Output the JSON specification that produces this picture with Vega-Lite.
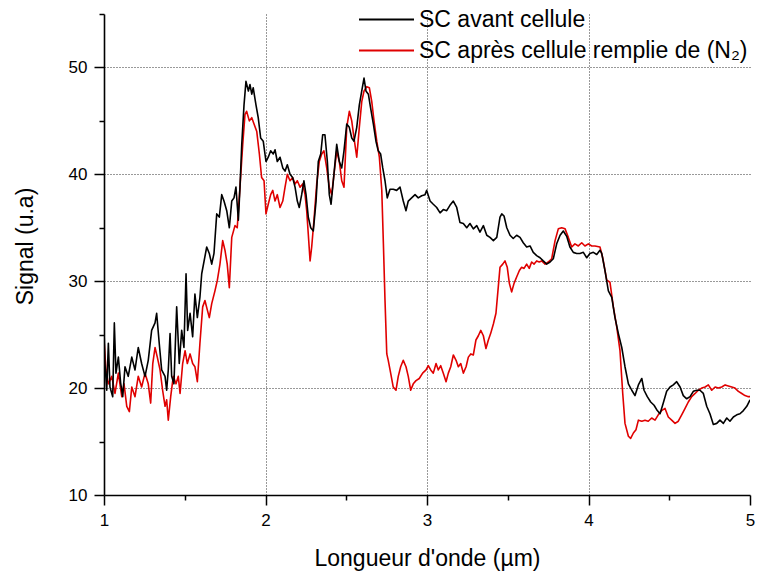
{
  "$schema": "https://vega.github.io/schema/vega-lite/v6.json",
  "autosize": {"type": "none"},
  "padding": {"left": 104, "top": 14, "right": 10, "bottom": 76},
  "width": 646,
  "height": 481,
  "background": "white",
  "config": {
    "view": {"stroke": null},
    "font": "Liberation Sans",
    "axis": {"labelFont": "Liberation Sans", "titleFont": "Liberation Sans"},
    "legend": {"labelFont": "Liberation Sans"}
  },
  "data": {"values": [
    {"s":"SC après cellule remplie de (N₂)","x":1.000,"y":24.5},
    {"s":"SC après cellule remplie de (N₂)","x":1.012,"y":21.7},
    {"s":"SC après cellule remplie de (N₂)","x":1.027,"y":20.4},
    {"s":"SC après cellule remplie de (N₂)","x":1.048,"y":21.1},
    {"s":"SC après cellule remplie de (N₂)","x":1.068,"y":19.5},
    {"s":"SC après cellule remplie de (N₂)","x":1.089,"y":21.4},
    {"s":"SC après cellule remplie de (N₂)","x":1.110,"y":19.2},
    {"s":"SC après cellule remplie de (N₂)","x":1.124,"y":20.4},
    {"s":"SC après cellule remplie de (N₂)","x":1.141,"y":18.3},
    {"s":"SC après cellule remplie de (N₂)","x":1.157,"y":17.8},
    {"s":"SC après cellule remplie de (N₂)","x":1.172,"y":20.1},
    {"s":"SC après cellule remplie de (N₂)","x":1.192,"y":19.2},
    {"s":"SC après cellule remplie de (N₂)","x":1.212,"y":21.1},
    {"s":"SC après cellule remplie de (N₂)","x":1.233,"y":20.1},
    {"s":"SC après cellule remplie de (N₂)","x":1.254,"y":21.4},
    {"s":"SC après cellule remplie de (N₂)","x":1.274,"y":20.4},
    {"s":"SC après cellule remplie de (N₂)","x":1.289,"y":18.6},
    {"s":"SC après cellule remplie de (N₂)","x":1.302,"y":22.3},
    {"s":"SC après cellule remplie de (N₂)","x":1.316,"y":23.8},
    {"s":"SC après cellule remplie de (N₂)","x":1.330,"y":22.9},
    {"s":"SC après cellule remplie de (N₂)","x":1.347,"y":21.7},
    {"s":"SC après cellule remplie de (N₂)","x":1.363,"y":19.8},
    {"s":"SC après cellule remplie de (N₂)","x":1.378,"y":18.3},
    {"s":"SC après cellule remplie de (N₂)","x":1.388,"y":18.9},
    {"s":"SC après cellule remplie de (N₂)","x":1.398,"y":17.0},
    {"s":"SC après cellule remplie de (N₂)","x":1.413,"y":19.2},
    {"s":"SC après cellule remplie de (N₂)","x":1.429,"y":21.1},
    {"s":"SC après cellule remplie de (N₂)","x":1.446,"y":20.4},
    {"s":"SC après cellule remplie de (N₂)","x":1.460,"y":21.1},
    {"s":"SC après cellule remplie de (N₂)","x":1.471,"y":19.5},
    {"s":"SC après cellule remplie de (N₂)","x":1.487,"y":22.3},
    {"s":"SC après cellule remplie de (N₂)","x":1.502,"y":23.5},
    {"s":"SC après cellule remplie de (N₂)","x":1.516,"y":22.3},
    {"s":"SC après cellule remplie de (N₂)","x":1.533,"y":23.2},
    {"s":"SC après cellule remplie de (N₂)","x":1.549,"y":22.3},
    {"s":"SC après cellule remplie de (N₂)","x":1.563,"y":22.0},
    {"s":"SC après cellule remplie de (N₂)","x":1.578,"y":20.6},
    {"s":"SC après cellule remplie de (N₂)","x":1.594,"y":24.2},
    {"s":"SC après cellule remplie de (N₂)","x":1.611,"y":27.6},
    {"s":"SC après cellule remplie de (N₂)","x":1.625,"y":28.2},
    {"s":"SC après cellule remplie de (N₂)","x":1.640,"y":27.3},
    {"s":"SC après cellule remplie de (N₂)","x":1.652,"y":26.6},
    {"s":"SC après cellule remplie de (N₂)","x":1.667,"y":27.9},
    {"s":"SC après cellule remplie de (N₂)","x":1.687,"y":29.1},
    {"s":"SC après cellule remplie de (N₂)","x":1.702,"y":30.1},
    {"s":"SC après cellule remplie de (N₂)","x":1.718,"y":31.6},
    {"s":"SC après cellule remplie de (N₂)","x":1.735,"y":33.8},
    {"s":"SC après cellule remplie de (N₂)","x":1.749,"y":32.9},
    {"s":"SC après cellule remplie de (N₂)","x":1.763,"y":31.6},
    {"s":"SC après cellule remplie de (N₂)","x":1.776,"y":29.4},
    {"s":"SC après cellule remplie de (N₂)","x":1.791,"y":34.1},
    {"s":"SC après cellule remplie de (N₂)","x":1.811,"y":35.2},
    {"s":"SC après cellule remplie de (N₂)","x":1.825,"y":35.0},
    {"s":"SC après cellule remplie de (N₂)","x":1.842,"y":38.8},
    {"s":"SC après cellule remplie de (N₂)","x":1.859,"y":42.8},
    {"s":"SC après cellule remplie de (N₂)","x":1.873,"y":45.6},
    {"s":"SC après cellule remplie de (N₂)","x":1.883,"y":45.9},
    {"s":"SC après cellule remplie de (N₂)","x":1.900,"y":45.0},
    {"s":"SC après cellule remplie de (N₂)","x":1.915,"y":45.3},
    {"s":"SC après cellule remplie de (N₂)","x":1.929,"y":44.7},
    {"s":"SC après cellule remplie de (N₂)","x":1.946,"y":44.0},
    {"s":"SC après cellule remplie de (N₂)","x":1.962,"y":41.9},
    {"s":"SC après cellule remplie de (N₂)","x":1.976,"y":39.7},
    {"s":"SC après cellule remplie de (N₂)","x":1.991,"y":39.4},
    {"s":"SC après cellule remplie de (N₂)","x":2.003,"y":36.3},
    {"s":"SC après cellule remplie de (N₂)","x":2.017,"y":37.2},
    {"s":"SC après cellule remplie de (N₂)","x":2.032,"y":38.1},
    {"s":"SC après cellule remplie de (N₂)","x":2.045,"y":38.5},
    {"s":"SC après cellule remplie de (N₂)","x":2.059,"y":37.5},
    {"s":"SC après cellule remplie de (N₂)","x":2.073,"y":38.1},
    {"s":"SC après cellule remplie de (N₂)","x":2.090,"y":36.9},
    {"s":"SC après cellule remplie de (N₂)","x":2.107,"y":37.5},
    {"s":"SC après cellule remplie de (N₂)","x":2.121,"y":38.8},
    {"s":"SC après cellule remplie de (N₂)","x":2.135,"y":40.0},
    {"s":"SC après cellule remplie de (N₂)","x":2.152,"y":39.4},
    {"s":"SC après cellule remplie de (N₂)","x":2.168,"y":39.7},
    {"s":"SC après cellule remplie de (N₂)","x":2.183,"y":39.1},
    {"s":"SC après cellule remplie de (N₂)","x":2.197,"y":39.4},
    {"s":"SC après cellule remplie de (N₂)","x":2.214,"y":38.8},
    {"s":"SC après cellule remplie de (N₂)","x":2.230,"y":39.1},
    {"s":"SC après cellule remplie de (N₂)","x":2.245,"y":38.1},
    {"s":"SC après cellule remplie de (N₂)","x":2.255,"y":36.6},
    {"s":"SC après cellule remplie de (N₂)","x":2.265,"y":34.4},
    {"s":"SC après cellule remplie de (N₂)","x":2.276,"y":31.9},
    {"s":"SC après cellule remplie de (N₂)","x":2.286,"y":33.2},
    {"s":"SC après cellule remplie de (N₂)","x":2.300,"y":35.7},
    {"s":"SC après cellule remplie de (N₂)","x":2.317,"y":39.1},
    {"s":"SC après cellule remplie de (N₂)","x":2.333,"y":41.2},
    {"s":"SC après cellule remplie de (N₂)","x":2.348,"y":41.9},
    {"s":"SC après cellule remplie de (N₂)","x":2.362,"y":42.2},
    {"s":"SC après cellule remplie de (N₂)","x":2.379,"y":40.6},
    {"s":"SC après cellule remplie de (N₂)","x":2.395,"y":38.8},
    {"s":"SC après cellule remplie de (N₂)","x":2.410,"y":38.1},
    {"s":"SC après cellule remplie de (N₂)","x":2.424,"y":40.0},
    {"s":"SC après cellule remplie de (N₂)","x":2.441,"y":42.2},
    {"s":"SC après cellule remplie de (N₂)","x":2.457,"y":41.2},
    {"s":"SC après cellule remplie de (N₂)","x":2.472,"y":39.4},
    {"s":"SC après cellule remplie de (N₂)","x":2.486,"y":38.8},
    {"s":"SC après cellule remplie de (N₂)","x":2.503,"y":44.4},
    {"s":"SC après cellule remplie de (N₂)","x":2.519,"y":45.9},
    {"s":"SC après cellule remplie de (N₂)","x":2.534,"y":45.0},
    {"s":"SC après cellule remplie de (N₂)","x":2.548,"y":43.4},
    {"s":"SC après cellule remplie de (N₂)","x":2.565,"y":41.6},
    {"s":"SC après cellule remplie de (N₂)","x":2.581,"y":44.4},
    {"s":"SC après cellule remplie de (N₂)","x":2.596,"y":46.8},
    {"s":"SC après cellule remplie de (N₂)","x":2.610,"y":47.8},
    {"s":"SC après cellule remplie de (N₂)","x":2.627,"y":48.2},
    {"s":"SC après cellule remplie de (N₂)","x":2.643,"y":48.1},
    {"s":"SC après cellule remplie de (N₂)","x":2.658,"y":46.8},
    {"s":"SC après cellule remplie de (N₂)","x":2.672,"y":45.0},
    {"s":"SC après cellule remplie de (N₂)","x":2.689,"y":43.1},
    {"s":"SC après cellule remplie de (N₂)","x":2.705,"y":41.6},
    {"s":"SC après cellule remplie de (N₂)","x":2.720,"y":38.5},
    {"s":"SC après cellule remplie de (N₂)","x":2.730,"y":33.5},
    {"s":"SC après cellule remplie de (N₂)","x":2.740,"y":28.2},
    {"s":"SC après cellule remplie de (N₂)","x":2.751,"y":23.2},
    {"s":"SC après cellule remplie de (N₂)","x":2.760,"y":22.6},
    {"s":"SC après cellule remplie de (N₂)","x":2.775,"y":21.4},
    {"s":"SC après cellule remplie de (N₂)","x":2.791,"y":20.1},
    {"s":"SC après cellule remplie de (N₂)","x":2.808,"y":19.8},
    {"s":"SC après cellule remplie de (N₂)","x":2.822,"y":21.1},
    {"s":"SC après cellule remplie de (N₂)","x":2.837,"y":22.0},
    {"s":"SC après cellule remplie de (N₂)","x":2.853,"y":22.6},
    {"s":"SC après cellule remplie de (N₂)","x":2.870,"y":22.0},
    {"s":"SC après cellule remplie de (N₂)","x":2.884,"y":21.1},
    {"s":"SC après cellule remplie de (N₂)","x":2.899,"y":19.8},
    {"s":"SC après cellule remplie de (N₂)","x":2.915,"y":20.4},
    {"s":"SC après cellule remplie de (N₂)","x":2.932,"y":20.7},
    {"s":"SC après cellule remplie de (N₂)","x":2.952,"y":20.9},
    {"s":"SC après cellule remplie de (N₂)","x":2.973,"y":21.4},
    {"s":"SC après cellule remplie de (N₂)","x":2.994,"y":21.7},
    {"s":"SC après cellule remplie de (N₂)","x":3.008,"y":22.1},
    {"s":"SC après cellule remplie de (N₂)","x":3.023,"y":21.7},
    {"s":"SC après cellule remplie de (N₂)","x":3.039,"y":21.4},
    {"s":"SC après cellule remplie de (N₂)","x":3.056,"y":22.3},
    {"s":"SC après cellule remplie de (N₂)","x":3.070,"y":21.7},
    {"s":"SC après cellule remplie de (N₂)","x":3.085,"y":22.1},
    {"s":"SC après cellule remplie de (N₂)","x":3.101,"y":21.4},
    {"s":"SC après cellule remplie de (N₂)","x":3.118,"y":20.6},
    {"s":"SC après cellule remplie de (N₂)","x":3.132,"y":21.4},
    {"s":"SC après cellule remplie de (N₂)","x":3.147,"y":22.0},
    {"s":"SC après cellule remplie de (N₂)","x":3.163,"y":23.1},
    {"s":"SC après cellule remplie de (N₂)","x":3.180,"y":22.6},
    {"s":"SC après cellule remplie de (N₂)","x":3.194,"y":22.0},
    {"s":"SC après cellule remplie de (N₂)","x":3.209,"y":22.3},
    {"s":"SC après cellule remplie de (N₂)","x":3.225,"y":21.4},
    {"s":"SC après cellule remplie de (N₂)","x":3.242,"y":22.0},
    {"s":"SC après cellule remplie de (N₂)","x":3.256,"y":22.9},
    {"s":"SC après cellule remplie de (N₂)","x":3.271,"y":23.2},
    {"s":"SC après cellule remplie de (N₂)","x":3.287,"y":23.1},
    {"s":"SC après cellule remplie de (N₂)","x":3.303,"y":24.5},
    {"s":"SC après cellule remplie de (N₂)","x":3.318,"y":24.9},
    {"s":"SC après cellule remplie de (N₂)","x":3.333,"y":25.4},
    {"s":"SC après cellule remplie de (N₂)","x":3.349,"y":24.9},
    {"s":"SC après cellule remplie de (N₂)","x":3.365,"y":23.7},
    {"s":"SC après cellule remplie de (N₂)","x":3.380,"y":24.5},
    {"s":"SC après cellule remplie de (N₂)","x":3.394,"y":25.1},
    {"s":"SC après cellule remplie de (N₂)","x":3.411,"y":26.0},
    {"s":"SC après cellule remplie de (N₂)","x":3.427,"y":27.0},
    {"s":"SC après cellule remplie de (N₂)","x":3.441,"y":29.4},
    {"s":"SC après cellule remplie de (N₂)","x":3.452,"y":31.3},
    {"s":"SC après cellule remplie de (N₂)","x":3.469,"y":31.6},
    {"s":"SC après cellule remplie de (N₂)","x":3.483,"y":31.9},
    {"s":"SC après cellule remplie de (N₂)","x":3.497,"y":31.3},
    {"s":"SC après cellule remplie de (N₂)","x":3.510,"y":29.8},
    {"s":"SC après cellule remplie de (N₂)","x":3.524,"y":29.0},
    {"s":"SC après cellule remplie de (N₂)","x":3.539,"y":29.8},
    {"s":"SC après cellule remplie de (N₂)","x":3.555,"y":30.4},
    {"s":"SC après cellule remplie de (N₂)","x":3.572,"y":31.0},
    {"s":"SC après cellule remplie de (N₂)","x":3.586,"y":31.3},
    {"s":"SC après cellule remplie de (N₂)","x":3.601,"y":31.2},
    {"s":"SC après cellule remplie de (N₂)","x":3.617,"y":31.6},
    {"s":"SC après cellule remplie de (N₂)","x":3.633,"y":31.2},
    {"s":"SC après cellule remplie de (N₂)","x":3.648,"y":31.8},
    {"s":"SC après cellule remplie de (N₂)","x":3.663,"y":31.6},
    {"s":"SC après cellule remplie de (N₂)","x":3.679,"y":31.9},
    {"s":"SC après cellule remplie de (N₂)","x":3.695,"y":31.8},
    {"s":"SC après cellule remplie de (N₂)","x":3.710,"y":31.9},
    {"s":"SC après cellule remplie de (N₂)","x":3.731,"y":31.6},
    {"s":"SC après cellule remplie de (N₂)","x":3.751,"y":31.8},
    {"s":"SC après cellule remplie de (N₂)","x":3.772,"y":32.1},
    {"s":"SC après cellule remplie de (N₂)","x":3.793,"y":33.8},
    {"s":"SC après cellule remplie de (N₂)","x":3.813,"y":34.9},
    {"s":"SC après cellule remplie de (N₂)","x":3.834,"y":35.0},
    {"s":"SC après cellule remplie de (N₂)","x":3.855,"y":34.9},
    {"s":"SC après cellule remplie de (N₂)","x":3.875,"y":34.1},
    {"s":"SC après cellule remplie de (N₂)","x":3.896,"y":33.2},
    {"s":"SC après cellule remplie de (N₂)","x":3.916,"y":33.5},
    {"s":"SC après cellule remplie de (N₂)","x":3.937,"y":33.3},
    {"s":"SC après cellule remplie de (N₂)","x":3.958,"y":33.6},
    {"s":"SC après cellule remplie de (N₂)","x":3.978,"y":33.3},
    {"s":"SC après cellule remplie de (N₂)","x":3.999,"y":33.5},
    {"s":"SC après cellule remplie de (N₂)","x":4.020,"y":33.3},
    {"s":"SC après cellule remplie de (N₂)","x":4.040,"y":33.3},
    {"s":"SC après cellule remplie de (N₂)","x":4.071,"y":33.2},
    {"s":"SC après cellule remplie de (N₂)","x":4.088,"y":32.2},
    {"s":"SC après cellule remplie de (N₂)","x":4.113,"y":30.1},
    {"s":"SC après cellule remplie de (N₂)","x":4.133,"y":29.9},
    {"s":"SC après cellule remplie de (N₂)","x":4.154,"y":27.6},
    {"s":"SC après cellule remplie de (N₂)","x":4.175,"y":25.7},
    {"s":"SC après cellule remplie de (N₂)","x":4.195,"y":23.5},
    {"s":"SC après cellule remplie de (N₂)","x":4.212,"y":19.5},
    {"s":"SC après cellule remplie de (N₂)","x":4.226,"y":16.7},
    {"s":"SC après cellule remplie de (N₂)","x":4.247,"y":15.5},
    {"s":"SC après cellule remplie de (N₂)","x":4.261,"y":15.3},
    {"s":"SC après cellule remplie de (N₂)","x":4.278,"y":15.8},
    {"s":"SC après cellule remplie de (N₂)","x":4.294,"y":16.1},
    {"s":"SC après cellule remplie de (N₂)","x":4.309,"y":17.0},
    {"s":"SC après cellule remplie de (N₂)","x":4.330,"y":16.9},
    {"s":"SC après cellule remplie de (N₂)","x":4.350,"y":17.0},
    {"s":"SC après cellule remplie de (N₂)","x":4.370,"y":16.9},
    {"s":"SC après cellule remplie de (N₂)","x":4.391,"y":17.2},
    {"s":"SC après cellule remplie de (N₂)","x":4.412,"y":17.0},
    {"s":"SC après cellule remplie de (N₂)","x":4.432,"y":17.5},
    {"s":"SC après cellule remplie de (N₂)","x":4.453,"y":17.9},
    {"s":"SC après cellule remplie de (N₂)","x":4.474,"y":18.1},
    {"s":"SC après cellule remplie de (N₂)","x":4.494,"y":17.3},
    {"s":"SC après cellule remplie de (N₂)","x":4.515,"y":17.0},
    {"s":"SC après cellule remplie de (N₂)","x":4.536,"y":16.7},
    {"s":"SC après cellule remplie de (N₂)","x":4.556,"y":16.9},
    {"s":"SC après cellule remplie de (N₂)","x":4.577,"y":17.5},
    {"s":"SC après cellule remplie de (N₂)","x":4.598,"y":18.1},
    {"s":"SC après cellule remplie de (N₂)","x":4.618,"y":18.7},
    {"s":"SC après cellule remplie de (N₂)","x":4.639,"y":19.2},
    {"s":"SC après cellule remplie de (N₂)","x":4.660,"y":19.5},
    {"s":"SC après cellule remplie de (N₂)","x":4.680,"y":19.8},
    {"s":"SC après cellule remplie de (N₂)","x":4.701,"y":20.0},
    {"s":"SC après cellule remplie de (N₂)","x":4.722,"y":20.1},
    {"s":"SC après cellule remplie de (N₂)","x":4.742,"y":20.3},
    {"s":"SC après cellule remplie de (N₂)","x":4.763,"y":19.8},
    {"s":"SC après cellule remplie de (N₂)","x":4.784,"y":20.1},
    {"s":"SC après cellule remplie de (N₂)","x":4.804,"y":20.0},
    {"s":"SC après cellule remplie de (N₂)","x":4.825,"y":20.1},
    {"s":"SC après cellule remplie de (N₂)","x":4.846,"y":20.3},
    {"s":"SC après cellule remplie de (N₂)","x":4.866,"y":20.2},
    {"s":"SC après cellule remplie de (N₂)","x":4.887,"y":20.1},
    {"s":"SC après cellule remplie de (N₂)","x":4.907,"y":20.0},
    {"s":"SC après cellule remplie de (N₂)","x":4.928,"y":19.7},
    {"s":"SC après cellule remplie de (N₂)","x":4.949,"y":19.5},
    {"s":"SC après cellule remplie de (N₂)","x":4.969,"y":19.3},
    {"s":"SC après cellule remplie de (N₂)","x":4.990,"y":19.2},
    {"s":"SC après cellule remplie de (N₂)","x":5.000,"y":19.2},
    {"s":"SC avant cellule","x":1.000,"y":25.5},
    {"s":"SC avant cellule","x":1.006,"y":22.3},
    {"s":"SC avant cellule","x":1.017,"y":19.8},
    {"s":"SC avant cellule","x":1.027,"y":24.2},
    {"s":"SC avant cellule","x":1.037,"y":20.1},
    {"s":"SC avant cellule","x":1.054,"y":19.2},
    {"s":"SC avant cellule","x":1.064,"y":26.1},
    {"s":"SC avant cellule","x":1.074,"y":21.4},
    {"s":"SC avant cellule","x":1.089,"y":22.9},
    {"s":"SC avant cellule","x":1.103,"y":20.5},
    {"s":"SC avant cellule","x":1.116,"y":19.2},
    {"s":"SC avant cellule","x":1.130,"y":22.0},
    {"s":"SC avant cellule","x":1.150,"y":21.1},
    {"s":"SC avant cellule","x":1.172,"y":22.9},
    {"s":"SC avant cellule","x":1.192,"y":21.7},
    {"s":"SC avant cellule","x":1.212,"y":23.8},
    {"s":"SC avant cellule","x":1.233,"y":22.3},
    {"s":"SC avant cellule","x":1.254,"y":21.1},
    {"s":"SC avant cellule","x":1.274,"y":22.6},
    {"s":"SC avant cellule","x":1.295,"y":25.4},
    {"s":"SC avant cellule","x":1.316,"y":26.1},
    {"s":"SC avant cellule","x":1.326,"y":27.0},
    {"s":"SC avant cellule","x":1.342,"y":24.2},
    {"s":"SC avant cellule","x":1.357,"y":21.7},
    {"s":"SC avant cellule","x":1.378,"y":21.1},
    {"s":"SC avant cellule","x":1.388,"y":19.8},
    {"s":"SC avant cellule","x":1.398,"y":21.7},
    {"s":"SC avant cellule","x":1.409,"y":25.1},
    {"s":"SC avant cellule","x":1.419,"y":21.1},
    {"s":"SC avant cellule","x":1.433,"y":20.4},
    {"s":"SC avant cellule","x":1.450,"y":27.6},
    {"s":"SC avant cellule","x":1.466,"y":22.3},
    {"s":"SC avant cellule","x":1.481,"y":25.4},
    {"s":"SC avant cellule","x":1.495,"y":23.8},
    {"s":"SC avant cellule","x":1.508,"y":30.7},
    {"s":"SC avant cellule","x":1.518,"y":25.4},
    {"s":"SC avant cellule","x":1.533,"y":27.0},
    {"s":"SC avant cellule","x":1.549,"y":24.8},
    {"s":"SC avant cellule","x":1.563,"y":28.8},
    {"s":"SC avant cellule","x":1.578,"y":26.6},
    {"s":"SC avant cellule","x":1.594,"y":28.5},
    {"s":"SC avant cellule","x":1.605,"y":30.7},
    {"s":"SC avant cellule","x":1.636,"y":33.2},
    {"s":"SC avant cellule","x":1.652,"y":32.6},
    {"s":"SC avant cellule","x":1.667,"y":31.6},
    {"s":"SC avant cellule","x":1.681,"y":32.6},
    {"s":"SC avant cellule","x":1.698,"y":36.3},
    {"s":"SC avant cellule","x":1.714,"y":36.0},
    {"s":"SC avant cellule","x":1.729,"y":38.1},
    {"s":"SC avant cellule","x":1.743,"y":37.5},
    {"s":"SC avant cellule","x":1.760,"y":36.6},
    {"s":"SC avant cellule","x":1.776,"y":35.0},
    {"s":"SC avant cellule","x":1.791,"y":37.5},
    {"s":"SC avant cellule","x":1.805,"y":37.8},
    {"s":"SC avant cellule","x":1.817,"y":38.8},
    {"s":"SC avant cellule","x":1.832,"y":35.7},
    {"s":"SC avant cellule","x":1.842,"y":38.8},
    {"s":"SC avant cellule","x":1.853,"y":42.8},
    {"s":"SC avant cellule","x":1.867,"y":46.5},
    {"s":"SC avant cellule","x":1.879,"y":48.7},
    {"s":"SC avant cellule","x":1.894,"y":47.8},
    {"s":"SC avant cellule","x":1.904,"y":48.4},
    {"s":"SC avant cellule","x":1.915,"y":47.5},
    {"s":"SC avant cellule","x":1.924,"y":48.1},
    {"s":"SC avant cellule","x":1.941,"y":46.5},
    {"s":"SC avant cellule","x":1.955,"y":45.3},
    {"s":"SC avant cellule","x":1.970,"y":43.4},
    {"s":"SC avant cellule","x":1.986,"y":43.1},
    {"s":"SC avant cellule","x":2.003,"y":41.2},
    {"s":"SC avant cellule","x":2.017,"y":41.6},
    {"s":"SC avant cellule","x":2.032,"y":42.2},
    {"s":"SC avant cellule","x":2.048,"y":41.9},
    {"s":"SC avant cellule","x":2.059,"y":42.3},
    {"s":"SC avant cellule","x":2.073,"y":41.2},
    {"s":"SC avant cellule","x":2.090,"y":41.6},
    {"s":"SC avant cellule","x":2.107,"y":40.6},
    {"s":"SC avant cellule","x":2.121,"y":40.3},
    {"s":"SC avant cellule","x":2.135,"y":40.9},
    {"s":"SC avant cellule","x":2.152,"y":40.0},
    {"s":"SC avant cellule","x":2.168,"y":39.7},
    {"s":"SC avant cellule","x":2.183,"y":38.8},
    {"s":"SC avant cellule","x":2.197,"y":37.5},
    {"s":"SC avant cellule","x":2.209,"y":36.9},
    {"s":"SC avant cellule","x":2.224,"y":38.1},
    {"s":"SC avant cellule","x":2.238,"y":39.4},
    {"s":"SC avant cellule","x":2.251,"y":38.1},
    {"s":"SC avant cellule","x":2.265,"y":36.0},
    {"s":"SC avant cellule","x":2.280,"y":35.0},
    {"s":"SC avant cellule","x":2.296,"y":34.7},
    {"s":"SC avant cellule","x":2.313,"y":37.5},
    {"s":"SC avant cellule","x":2.327,"y":41.2},
    {"s":"SC avant cellule","x":2.342,"y":41.9},
    {"s":"SC avant cellule","x":2.354,"y":43.7},
    {"s":"SC avant cellule","x":2.368,"y":43.7},
    {"s":"SC avant cellule","x":2.383,"y":41.2},
    {"s":"SC avant cellule","x":2.395,"y":38.1},
    {"s":"SC avant cellule","x":2.406,"y":37.2},
    {"s":"SC avant cellule","x":2.420,"y":39.4},
    {"s":"SC avant cellule","x":2.441,"y":42.8},
    {"s":"SC avant cellule","x":2.457,"y":41.2},
    {"s":"SC avant cellule","x":2.472,"y":40.6},
    {"s":"SC avant cellule","x":2.486,"y":42.2},
    {"s":"SC avant cellule","x":2.503,"y":44.7},
    {"s":"SC avant cellule","x":2.519,"y":44.4},
    {"s":"SC avant cellule","x":2.534,"y":43.4},
    {"s":"SC avant cellule","x":2.548,"y":43.1},
    {"s":"SC avant cellule","x":2.565,"y":44.4},
    {"s":"SC avant cellule","x":2.581,"y":46.5},
    {"s":"SC avant cellule","x":2.596,"y":47.8},
    {"s":"SC avant cellule","x":2.610,"y":49.0},
    {"s":"SC avant cellule","x":2.622,"y":47.8},
    {"s":"SC avant cellule","x":2.637,"y":47.5},
    {"s":"SC avant cellule","x":2.651,"y":46.2},
    {"s":"SC avant cellule","x":2.668,"y":44.7},
    {"s":"SC avant cellule","x":2.684,"y":43.1},
    {"s":"SC avant cellule","x":2.698,"y":42.2},
    {"s":"SC avant cellule","x":2.713,"y":41.9},
    {"s":"SC avant cellule","x":2.726,"y":40.6},
    {"s":"SC avant cellule","x":2.740,"y":39.4},
    {"s":"SC avant cellule","x":2.754,"y":37.8},
    {"s":"SC avant cellule","x":2.771,"y":38.6},
    {"s":"SC avant cellule","x":2.791,"y":38.6},
    {"s":"SC avant cellule","x":2.812,"y":38.5},
    {"s":"SC avant cellule","x":2.833,"y":38.8},
    {"s":"SC avant cellule","x":2.853,"y":37.5},
    {"s":"SC avant cellule","x":2.870,"y":36.6},
    {"s":"SC avant cellule","x":2.884,"y":37.5},
    {"s":"SC avant cellule","x":2.905,"y":37.8},
    {"s":"SC avant cellule","x":2.926,"y":38.1},
    {"s":"SC avant cellule","x":2.946,"y":37.8},
    {"s":"SC avant cellule","x":2.967,"y":38.0},
    {"s":"SC avant cellule","x":2.988,"y":38.1},
    {"s":"SC avant cellule","x":2.998,"y":38.5},
    {"s":"SC avant cellule","x":3.019,"y":37.5},
    {"s":"SC avant cellule","x":3.039,"y":37.2},
    {"s":"SC avant cellule","x":3.060,"y":36.9},
    {"s":"SC avant cellule","x":3.081,"y":36.4},
    {"s":"SC avant cellule","x":3.101,"y":36.7},
    {"s":"SC avant cellule","x":3.122,"y":36.6},
    {"s":"SC avant cellule","x":3.142,"y":37.1},
    {"s":"SC avant cellule","x":3.163,"y":37.5},
    {"s":"SC avant cellule","x":3.184,"y":36.9},
    {"s":"SC avant cellule","x":3.204,"y":35.5},
    {"s":"SC avant cellule","x":3.225,"y":35.4},
    {"s":"SC avant cellule","x":3.246,"y":35.0},
    {"s":"SC avant cellule","x":3.266,"y":35.4},
    {"s":"SC avant cellule","x":3.287,"y":34.9},
    {"s":"SC avant cellule","x":3.308,"y":35.2},
    {"s":"SC avant cellule","x":3.328,"y":34.6},
    {"s":"SC avant cellule","x":3.349,"y":35.2},
    {"s":"SC avant cellule","x":3.370,"y":34.3},
    {"s":"SC avant cellule","x":3.390,"y":34.1},
    {"s":"SC avant cellule","x":3.411,"y":33.8},
    {"s":"SC avant cellule","x":3.432,"y":34.1},
    {"s":"SC avant cellule","x":3.452,"y":36.0},
    {"s":"SC avant cellule","x":3.463,"y":36.3},
    {"s":"SC avant cellule","x":3.477,"y":36.1},
    {"s":"SC avant cellule","x":3.494,"y":35.0},
    {"s":"SC avant cellule","x":3.514,"y":34.3},
    {"s":"SC avant cellule","x":3.534,"y":34.0},
    {"s":"SC avant cellule","x":3.555,"y":34.3},
    {"s":"SC avant cellule","x":3.576,"y":34.1},
    {"s":"SC avant cellule","x":3.596,"y":33.6},
    {"s":"SC avant cellule","x":3.617,"y":33.2},
    {"s":"SC avant cellule","x":3.638,"y":33.3},
    {"s":"SC avant cellule","x":3.658,"y":32.7},
    {"s":"SC avant cellule","x":3.679,"y":32.4},
    {"s":"SC avant cellule","x":3.700,"y":32.2},
    {"s":"SC avant cellule","x":3.720,"y":31.9},
    {"s":"SC avant cellule","x":3.741,"y":31.6},
    {"s":"SC avant cellule","x":3.762,"y":31.8},
    {"s":"SC avant cellule","x":3.782,"y":32.1},
    {"s":"SC avant cellule","x":3.803,"y":33.5},
    {"s":"SC avant cellule","x":3.824,"y":34.3},
    {"s":"SC avant cellule","x":3.844,"y":34.7},
    {"s":"SC avant cellule","x":3.865,"y":34.2},
    {"s":"SC avant cellule","x":3.885,"y":33.2},
    {"s":"SC avant cellule","x":3.906,"y":32.7},
    {"s":"SC avant cellule","x":3.927,"y":32.6},
    {"s":"SC avant cellule","x":3.947,"y":32.6},
    {"s":"SC avant cellule","x":3.968,"y":32.7},
    {"s":"SC avant cellule","x":3.989,"y":32.2},
    {"s":"SC avant cellule","x":4.009,"y":32.6},
    {"s":"SC avant cellule","x":4.030,"y":32.7},
    {"s":"SC avant cellule","x":4.051,"y":32.5},
    {"s":"SC avant cellule","x":4.071,"y":32.9},
    {"s":"SC avant cellule","x":4.082,"y":32.6},
    {"s":"SC avant cellule","x":4.102,"y":31.0},
    {"s":"SC avant cellule","x":4.123,"y":29.1},
    {"s":"SC avant cellule","x":4.144,"y":28.5},
    {"s":"SC avant cellule","x":4.164,"y":26.6},
    {"s":"SC avant cellule","x":4.185,"y":25.1},
    {"s":"SC avant cellule","x":4.206,"y":23.8},
    {"s":"SC avant cellule","x":4.226,"y":22.0},
    {"s":"SC avant cellule","x":4.247,"y":20.4},
    {"s":"SC avant cellule","x":4.268,"y":19.8},
    {"s":"SC avant cellule","x":4.288,"y":19.3},
    {"s":"SC avant cellule","x":4.309,"y":20.3},
    {"s":"SC avant cellule","x":4.330,"y":20.9},
    {"s":"SC avant cellule","x":4.344,"y":19.8},
    {"s":"SC avant cellule","x":4.364,"y":19.2},
    {"s":"SC avant cellule","x":4.385,"y":18.7},
    {"s":"SC avant cellule","x":4.406,"y":18.4},
    {"s":"SC avant cellule","x":4.426,"y":17.9},
    {"s":"SC avant cellule","x":4.443,"y":17.6},
    {"s":"SC avant cellule","x":4.463,"y":18.6},
    {"s":"SC avant cellule","x":4.484,"y":19.7},
    {"s":"SC avant cellule","x":4.505,"y":20.1},
    {"s":"SC avant cellule","x":4.525,"y":20.3},
    {"s":"SC avant cellule","x":4.546,"y":20.6},
    {"s":"SC avant cellule","x":4.567,"y":20.1},
    {"s":"SC avant cellule","x":4.587,"y":19.3},
    {"s":"SC avant cellule","x":4.608,"y":19.0},
    {"s":"SC avant cellule","x":4.629,"y":19.2},
    {"s":"SC avant cellule","x":4.649,"y":19.7},
    {"s":"SC avant cellule","x":4.670,"y":19.8},
    {"s":"SC avant cellule","x":4.690,"y":19.8},
    {"s":"SC avant cellule","x":4.711,"y":19.5},
    {"s":"SC avant cellule","x":4.732,"y":18.3},
    {"s":"SC avant cellule","x":4.752,"y":17.6},
    {"s":"SC avant cellule","x":4.773,"y":16.6},
    {"s":"SC avant cellule","x":4.794,"y":16.7},
    {"s":"SC avant cellule","x":4.814,"y":17.0},
    {"s":"SC avant cellule","x":4.835,"y":16.7},
    {"s":"SC avant cellule","x":4.856,"y":17.2},
    {"s":"SC avant cellule","x":4.876,"y":16.9},
    {"s":"SC avant cellule","x":4.897,"y":17.3},
    {"s":"SC avant cellule","x":4.918,"y":17.5},
    {"s":"SC avant cellule","x":4.938,"y":17.6},
    {"s":"SC avant cellule","x":4.959,"y":17.9},
    {"s":"SC avant cellule","x":4.980,"y":18.3},
    {"s":"SC avant cellule","x":5.000,"y":18.9}
  ]},
  "mark": {"type": "line", "strokeWidth": 1.6, "strokeJoin": "round", "clip": true},
  "encoding": {
    "x": {
      "field": "x", "type": "quantitative",
      "scale": {"domain": [1, 5], "nice": false, "zero": false},
      "axis": {
        "title": "Longueur d'onde (µm)",
        "values": [1, 1.5, 2, 2.5, 3, 3.5, 4, 4.5, 5],
        "labelExpr": "datum.value % 1 === 0 ? format(datum.value, 'd') : ''",
        "labelFontSize": 17, "labelColor": "#000", "labelPadding": 7, "labelFlush": false,
        "titleFontSize": 23, "titleFontWeight": "normal", "titleColor": "#000",
        "titleX": 323, "titleY": 70, "titleBaseline": "alphabetic", "titleAnchor": "middle",
        "domainColor": "#000", "domainWidth": 1.6,
        "tickColor": "#000", "tickWidth": 1.5,
        "tickSize": {"condition": {"test": "datum.value % 1 === 0", "value": 10}, "value": 5},
        "grid": true, "gridColor": "#333", "gridWidth": 1, "gridDash": [1, 2],
        "gridOpacity": {"condition": {"test": "datum.value % 1 === 0 && datum.value > 1 && datum.value < 5", "value": 1}, "value": 0}
      }
    },
    "y": {
      "field": "y", "type": "quantitative",
      "scale": {"domain": [10, 55], "nice": false, "zero": false},
      "axis": {
        "title": "Signal (u.a)",
        "values": [10, 15, 20, 25, 30, 35, 40, 45, 50, 55],
        "labelExpr": "datum.value % 10 === 0 ? format(datum.value, 'd') : ''",
        "labelFontSize": 17, "labelColor": "#000", "labelPadding": 7, "labelFlush": false,
        "titleFontSize": 23, "titleFontWeight": "normal", "titleColor": "#000",
        "titleX": -72, "titleY": 232, "titleBaseline": "alphabetic", "titleAngle": -90, "titleAnchor": "middle",
        "domainColor": "#000", "domainWidth": 1.6,
        "tickColor": "#000", "tickWidth": 1.5,
        "tickSize": {"condition": {"test": "datum.value % 10 === 0", "value": 10}, "value": 5},
        "grid": true, "gridColor": "#333", "gridWidth": 1, "gridDash": [1, 2],
        "gridOpacity": {"condition": {"test": "datum.value % 10 === 0 && datum.value > 10 && datum.value < 55", "value": 1}, "value": 0}
      }
    },
    "color": {
      "field": "s", "type": "nominal",
      "scale": {"domain": ["SC avant cellule", "SC après cellule remplie de (N₂)"], "range": ["#000000", "#e00000"]},
      "legend": {
        "title": null, "orient": "none", "legendX": 271, "legendY": -6,
        "symbolType": "M-5,0H5", "symbolSize": 121, "symbolStrokeWidth": 2,
        "labelFontSize": 23, "labelColor": "#000", "labelOffset": 21, "labelLimit": 0,
        "rowPadding": 7, "padding": 0
      }
    }
  }
}
